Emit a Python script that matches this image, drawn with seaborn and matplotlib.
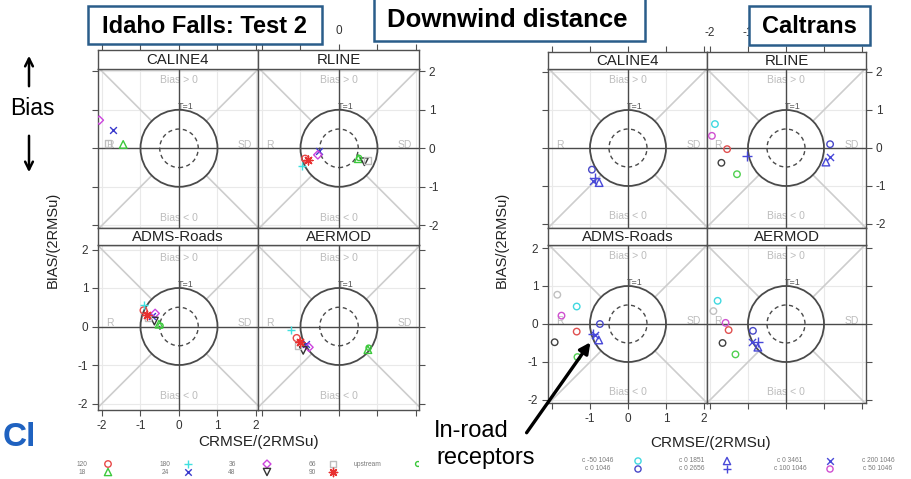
import numpy as np
import pandas as pd
import matplotlib
matplotlib.use("Agg")
import matplotlib.pyplot as plt
import seaborn as sns
from matplotlib.patches import Rectangle, Circle, FancyArrowPatch

sns.set_style("white")
plt.rcParams["font.family"] = ["Liberation Sans", "DejaVu Sans"]
plt.rcParams["axes.unicode_minus"] = False

nan = np.nan
models = ["CALINE4", "RLINE", "ADMS-Roads", "AERMOD"]
ticks = [-2, -1, 0, 1, 2]
tick_labels = ["-2", "-1", "0", "1", "2"]

# ---------------- Idaho Falls: Test 2 (values per model, order = models) ----------------
idaho_labels = ["120", "18", "180", "24", "36", "48", "66", "90", "upstream"]
if_120_x = [nan, -0.88, -0.92, -1.10]
if_120_y = [nan, -0.27, 0.42, -0.30]
if_18_x = [-1.45, 0.50, -0.52, 0.75]
if_18_y = [0.10, -0.27, 0.06, -0.60]
if_180_x = [nan, -0.95, -0.90, -1.24]
if_180_y = [nan, -0.45, 0.57, -0.08]
if_24_x = [-1.71, -0.52, -0.70, -0.86]
if_24_y = [0.47, -0.08, 0.28, -0.46]
if_36_x = [-2.07, -0.55, -0.62, -0.78]
if_36_y = [0.73, -0.17, 0.34, -0.54]
if_48_x = [nan, 0.66, -0.64, -0.93]
if_48_y = [nan, -0.35, 0.14, -0.62]
if_66_x = [-1.84, 0.74, -0.80, -1.06]
if_66_y = [0.13, -0.32, 0.22, -0.50]
if_90_x = [nan, -0.80, -0.82, -1.00]
if_90_y = [nan, -0.30, 0.30, -0.40]
if_up_x = [nan, 0.52, -0.48, 0.77]
if_up_y = [nan, -0.25, 0.02, -0.55]

# ---------------- Caltrans ----------------
cal_labels = ["c -50 1046", "c 0 1046", "c 0 1851", "c 0 2656", "c 0 3461",
              "c 100 1046", "c 200 1046", "c 50 1046", "c 300 1046", "c 400 1046"]
ct_m50_x = [nan, -1.87, -1.35, -1.80]
ct_m50_y = [nan, 0.63, 0.46, 0.61]
ct_0_1046_x = [-0.95, 1.16, -0.74, -0.87]
ct_0_1046_y = [-0.57, 0.10, 0.00, -0.18]
ct_0_1851_x = [-0.76, 1.05, -0.77, -0.74]
ct_0_1851_y = [-0.91, -0.37, -0.42, -0.61]
ct_0_2656_x = [-0.86, -1.03, -0.93, -0.74]
ct_0_2656_y = [-0.80, -0.20, -0.25, -0.48]
ct_0_3461_x = [-0.92, 1.16, -0.88, -0.90]
ct_0_3461_y = [-0.86, -0.24, -0.30, -0.48]
ct_100_x = [nan, -1.95, -1.75, -1.59]
ct_100_y = [nan, 0.32, 0.22, 0.03]
ct_200_x = [nan, -1.55, -1.35, -1.51]
ct_200_y = [nan, -0.03, -0.20, -0.16]
ct_50_x = [nan, -1.70, -1.93, -1.67]
ct_50_y = [nan, -0.39, -0.48, -0.50]
ct_300_x = [nan, -1.29, -1.33, -1.33]
ct_300_y = [nan, -0.69, -0.87, -0.80]
ct_400_x = [nan, nan, -1.86, -1.91]
ct_400_y = [nan, nan, 0.77, 0.34]


def long_frame(labels, xs, ys):
    rows = []
    for lab, xv, yv in zip(labels, xs, ys):
        for m, a, b in zip(models, xv, yv):
            rows.append({"series": lab, "model": m, "crmse": a, "bias": b})
    return pd.DataFrame(rows)


idaho_df = long_frame(idaho_labels,
                      [if_120_x, if_18_x, if_180_x, if_24_x, if_36_x, if_48_x, if_66_x, if_90_x, if_up_x],
                      [if_120_y, if_18_y, if_180_y, if_24_y, if_36_y, if_48_y, if_66_y, if_90_y, if_up_y])
cal_df = long_frame(cal_labels,
                    [ct_m50_x, ct_0_1046_x, ct_0_1851_x, ct_0_2656_x, ct_0_3461_x, ct_100_x, ct_200_x, ct_50_x, ct_300_x, ct_400_x],
                    [ct_m50_y, ct_0_1046_y, ct_0_1851_y, ct_0_2656_y, ct_0_3461_y, ct_100_y, ct_200_y, ct_50_y, ct_300_y, ct_400_y])

AST = (8, 2, 0)
idaho_style = {
    "120": ("o", "#e84848", 24), "18": ("^", "#3cc83c", 30), "180": ("+", "#40e0e0", 40),
    "24": ("x", "#3a3acc", 24), "36": ("D", "#cc44dd", 18), "48": ("v", "#333333", 30),
    "66": ("s", "#bdbdbd", 22), "90": (AST, "#e83030", 40), "upstream": ("o", "#3cc83c", 14),
}
cal_style = {
    "c -50 1046": ("o", "#40d8e0", 22), "c 0 1046": ("o", "#4848c8", 22),
    "c 0 1851": ("^", "#4848d8", 30), "c 0 2656": ("+", "#4848d8", 45),
    "c 0 3461": ("x", "#4848d8", 26), "c 100 1046": ("o", "#d050d0", 22),
    "c 200 1046": ("o", "#e05050", 22), "c 50 1046": ("o", "#404040", 22),
    "c 300 1046": ("o", "#50d050", 22), "c 400 1046": ("o", "#c0c0c0", 22),
}

W, H = 912, 479
fig = plt.figure(figsize=(W / 100, H / 100), dpi=100)


def fbox(x0, y0, x1, y1):
    return [x0 / W, 1 - y1 / H, (x1 - x0) / W, (y1 - y0) / H]


FRAME = "#505050"
TICKC = "#333333"


def decorate_panel(ax):
    for v in [-2, -1, 1, 2]:
        ax.axvline(v, color="#e9e9e9", lw=0.8, zorder=0)
        ax.axhline(v, color="#e9e9e9", lw=0.8, zorder=0)
    r = np.sqrt(0.5)
    for sx in (-1, 1):
        for sy in (-1, 1):
            ax.plot([sx * r, sx * 2.6], [sy * r, sy * 2.6], color="#cdcdcd", lw=1.2, zorder=1)
    gk = dict(color="#bcbcbc", fontsize=7.5, ha="center", va="center", zorder=1)
    ax.text(0, 1.78, "Bias > 0", **gk)
    ax.text(0, -1.80, "Bias < 0", **gk)
    ax.text(-1.80, 0.09, "R", **gk)
    ax.text(1.72, 0.09, "SD", **gk)
    ax.axhline(0, color="#4a4a4a", lw=1.0, zorder=2)
    ax.axvline(0, color="#4a4a4a", lw=1.0, zorder=2)
    ax.add_patch(Circle((0, 0), 1, fill=False, ec="#4a4a4a", lw=1.3, zorder=3))
    ax.add_patch(Circle((0, 0), 0.5, fill=False, ec="#4a4a4a", lw=1.0, ls=(0, (3, 2.4)), zorder=3))
    ax.text(-0.03, 1.08, "T=1", fontsize=6.5, color="#555555", ha="left", va="center", zorder=3)


def draw_lattice(df, styles, cols, cxs, scale, strips, panels, cys, top_labels):
    for i, model in enumerate(models):
        r, c = divmod(i, 2)
        x0, x1 = cols[c]
        py0, py1 = panels[r]
        sy0, sy1 = strips[r]
        ax = fig.add_axes(fbox(x0, py0, x1, py1))
        sub = df[df["model"] == model]
        for lab in styles:
            m, col, s = styles[lab]
            d = sub[sub["series"] == lab]
            filled = matplotlib.markers.MarkerStyle(m).is_filled()
            kw = dict(facecolor="none", edgecolor=col) if filled else {}
            sns.scatterplot(data=d, x="crmse", y="bias", ax=ax, marker=m, color=col, s=s,
                            linewidth=1.0, legend=False, zorder=6, **kw)
        decorate_panel(ax)
        ax.set_xlim((x0 - cxs[c]) / scale, (x1 - cxs[c]) / scale)
        ax.set_ylim((cys[r] - py1) / scale, (cys[r] - py0) / scale)
        ax.set_xlabel("")
        ax.set_ylabel("")
        ax.set_xticks(ticks)
        ax.set_xticklabels(tick_labels)
        ax.set_yticks(ticks)
        ax.set_yticklabels(tick_labels)
        for sp in ax.spines.values():
            sp.set_color(FRAME)
            sp.set_linewidth(1.0)
        tp = dict(direction="out", length=4, width=0.8, color=FRAME, labelcolor=TICKC,
                  labelsize=8.5, pad=3)
        ax.tick_params(axis="both", **tp)
        ax.tick_params(axis="x", top=False, labeltop=False, bottom=(r == 1),
                       labelbottom=(r == 1 and c == 0))
        ax.tick_params(axis="y", left=(c == 0), labelleft=(c == 0 and r == 1),
                       right=(c == 1), labelright=(c == 1 and r == 0))
        # strip
        sx = fig.add_axes(fbox(x0, sy0, x1, sy1))
        sx.set_facecolor("white")
        sx.set_xlim(ax.get_xlim())
        sx.set_ylim(0, 1)
        sx.set_yticks([])
        sx.set_xticks(ticks)
        sx.set_xticklabels(top_labels)
        sx.tick_params(axis="x", direction="out", length=4, width=0.8, color=FRAME,
                       labelcolor=TICKC, labelsize=8.5, pad=5, bottom=False, labelbottom=False,
                       top=(r == 0), labeltop=(r == 0 and c == 1))
        for sp in sx.spines.values():
            sp.set_color(FRAME)
            sp.set_linewidth(1.0)
        sx.text(0.5, 0.47, model, transform=sx.transAxes, ha="center", va="center",
                fontsize=10.8, color="#222222")


# top tick labels hidden behind the title boxes are left blank
draw_lattice(idaho_df, idaho_style, [(98, 258), (258, 419)], [179, 339], 38.5,
             [(50, 69), (228, 245)], [(69, 228), (245, 410)], [148.3, 326.5],
             ["", "", "0", "", ""])
draw_lattice(cal_df, cal_style, [(548, 707), (707, 866)], [628, 786], 38.0,
             [(52, 69), (228, 245)], [(69, 228), (245, 403)], [148, 324],
             ["-2", "-1", "", "", ""])

# ---------------- overlay in pixel coordinates ----------------
ov = fig.add_axes([0, 0, 1, 1], zorder=20)
ov.set_xlim(0, W)
ov.set_ylim(H, 0)
ov.axis("off")
ov.patch.set_alpha(0)

# axis labels
for cx, cy in [(259, 442), (711, 443)]:
    ov.text(cx, cy, "CRMSE/(2RMSu)", ha="center", va="center", fontsize=11, color="#222222")
for cx in [53, 502]:
    ov.text(cx, 240, "BIAS/(2RMSu)", ha="center", va="center", fontsize=10.5, rotation=90,
            color="#222222")


# legends (items fill columns top-down, two rows)
def legend_rows(labels, styles, lab_x, mk_x, y_rows):
    for k, lab in enumerate(labels):
        col, row = divmod(k, 2)
        if col >= len(lab_x):
            continue
        y = y_rows[row]
        ov.text(lab_x[col], y, lab, ha="center", va="center", fontsize=4.8, color="#7a7a7a")
        if mk_x[col] > W:
            continue
        m, c, s = styles[lab]
        filled = matplotlib.markers.MarkerStyle(m).is_filled()
        kw = dict(facecolor="none", edgecolor=c) if filled else {}
        sns.scatterplot(x=[mk_x[col]], y=[y], ax=ov, marker=m, color=c, s=s * 0.9,
                        linewidth=1.0, legend=False, clip_on=False, **kw)


legend_rows(idaho_labels, idaho_style, [82, 165, 232, 312, 368], [108, 188, 267, 333, 418], [464, 472])
legend_rows(cal_labels, cal_style, [598, 692, 790, 878], [638, 727, 830, 920], [461, 469])
ov.set_xlim(0, W)
ov.set_ylim(H, 0)
ov.set_xlabel("")
ov.set_ylabel("")

# white box behind "In-road receptors"
ov.add_patch(Rectangle((419, 413), 137, 66, facecolor="white", edgecolor="none", zorder=4))
ov.text(434, 431, "In-road", ha="left", va="center", fontsize=17, color="black", zorder=5)
ov.text(436, 458, "receptors", ha="left", va="center", fontsize=17, color="black", zorder=5)
ov.add_patch(FancyArrowPatch((525, 435), (592, 340), arrowstyle="-|>", mutation_scale=16,
                             lw=2.4, color="black", zorder=6))

# Bias arrows
ov.text(32, 108, "Bias", ha="center", va="center", fontsize=16.5, color="black")
ov.add_patch(FancyArrowPatch((29, 89), (29, 53), arrowstyle="->", mutation_scale=14, lw=1.8,
                             color="black"))
ov.add_patch(FancyArrowPatch((29, 133), (29, 175), arrowstyle="->", mutation_scale=14, lw=1.8,
                             color="black"))

# cut logo letters
ov.text(3, 437, "Cl", ha="left", va="center", fontsize=24, fontweight="bold", color="#1f62c0")

# title boxes
for (x0, y0, x1, y1, txt, fs) in [(88, 6, 322, 44, "Idaho Falls: Test 2", 17),
                                   (374, -3, 645, 41, "Downwind distance", 18.5),
                                   (749, 6, 870, 45, "Caltrans", 17)]:
    ov.add_patch(Rectangle((x0, y0), x1 - x0, y1 - y0, facecolor="white", edgecolor="#2a5d8a",
                           lw=1.8, zorder=8))
    ov.text((x0 + x1) / 2 - (2 if fs > 18 else 0), (y0 + y1) / 2 + 1, txt, ha="center",
            va="center", fontsize=fs, fontweight="bold", color="black", zorder=9)

fig.savefig("out.png", dpi=100)
